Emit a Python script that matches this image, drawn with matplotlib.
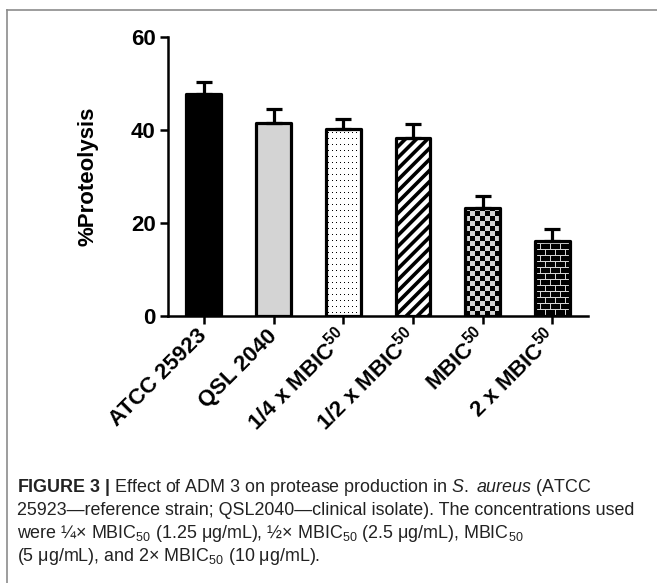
import numpy as np
import matplotlib
matplotlib.use('Agg')
import matplotlib.pyplot as plt
from matplotlib.lines import Line2D

# data
groups = ['ATCC 25923', 'QSL 2040', r'1/4 x MBIC$^{\mathbf{50}}$',
          r'1/2 x MBIC$^{\mathbf{50}}$', r'MBIC$^{\mathbf{50}}$', r'2 x MBIC$^{\mathbf{50}}$']
proteolysis = [47.8, 41.5, 40.3, 38.3, 23.3, 16.1]
sem = [2.6, 3.1, 2.0, 3.0, 2.6, 2.6]
y_ticks = [0, 20, 40, 60]

caption = [
    r'$\mathbf{FIGURE\ 3\ |}$ Effect of ADM 3 on protease production in $\mathit{S.}$ $\mathit{aureus}$ (ATCC',
    '25923\u2014reference strain; QSL2040\u2014clinical isolate). The concentrations used',
    'were \u00bc\u00d7 MBIC$_{50}$ (1.25 \u03bcg/mL), \u00bd\u00d7 MBIC$_{50}$ (2.5 \u03bcg/mL), MBIC$_{50}$',
    '(5 \u03bcg/mL), and 2\u00d7 MBIC$_{50}$ (10 \u03bcg/mL).',
]

fills = ['black', '#d4d4d4', 'dots', 'stripes', 'checker', 'brick']

plt.rcParams['font.family'] = ['Liberation Sans', 'DejaVu Sans']
plt.rcParams['mathtext.fontset'] = 'custom'
plt.rcParams['mathtext.rm'] = 'Liberation Sans'
plt.rcParams['mathtext.it'] = 'Liberation Sans:italic'
plt.rcParams['mathtext.bf'] = 'Liberation Sans:bold'
plt.rcParams['hatch.linewidth'] = 2.6

W, H = 657, 583
fig = plt.figure(figsize=(W / 100, H / 100), dpi=100, facecolor='white')
ax = fig.add_axes([168 / W, 1 - 316 / H, 420 / W, 279 / H])
ax.set_xlim(-0.515, 5.51)
ax.set_ylim(0, 60)

x = np.arange(len(groups))
bw = 0.5
lw = 2.3


def tile(kind):
    g = 0.83
    if kind == 'dots':
        t = np.ones((6, 4))
        t[3, 2] = 0.0
    elif kind == 'checker':
        t = np.full((10, 10), g)
        t[:5, :5] = 0
        t[5:, 5:] = 0
    else:  # brick
        t = np.zeros((12, 10))
        t[0, :] = g
        t[6, :] = g
        t[1:6, 0] = g
        t[7:12, 5] = g
    return t


bars = ax.bar(x, proteolysis, width=bw, color='white', edgecolor='none', zorder=1)
for b, f in zip(bars, fills):
    if f in ('dots', 'checker', 'brick'):
        x0, y0 = ax.transData.transform((b.get_x(), 0))
        x1, y1 = ax.transData.transform((b.get_x() + b.get_width(), b.get_height()))
        nx, ny = int(np.ceil(x1 - x0)), int(np.ceil(y1 - y0))
        t = tile(f)
        img = np.tile(t, (ny // t.shape[0] + 1, nx // t.shape[1] + 1))[:ny, :nx]
        im = ax.imshow(img, cmap='gray', vmin=0, vmax=1, origin='lower', aspect='auto',
                       interpolation='nearest',
                       extent=[b.get_x(), b.get_x() + b.get_width(), 0, b.get_height()],
                       zorder=1.5)
        im.set_clip_path(b)
    elif f == 'stripes':
        b.set_hatch('///')
        b.set_edgecolor('black')
        b.set_linewidth(0)
    else:
        b.set_facecolor(f)

# outlines on top of the fills
outl = ax.bar(x, proteolysis, width=bw, fill=False, edgecolor='black', linewidth=lw, zorder=3)
for b in outl:
    b.set_joinstyle('round')

ax.errorbar(x, proteolysis, yerr=[np.zeros(len(sem)), sem], fmt='none', ecolor='black',
            elinewidth=lw, capsize=6, capthick=lw, zorder=2.5)

ax.set_xlim(-0.515, 5.51)
ax.set_ylim(0, 60)

for s in ['top', 'right']:
    ax.spines[s].set_visible(False)
for s in ['left', 'bottom']:
    ax.spines[s].set_linewidth(1.8)

ax.set_yticks(y_ticks)
ax.set_xticks(x)
ax.set_xticklabels(groups, rotation=45, ha='right', va='center', rotation_mode='anchor',
                   fontsize=16, fontweight='bold')
ax.tick_params(axis='y', length=6, width=1.8, labelsize=16, pad=3)
ax.tick_params(axis='x', length=6, width=1.8, pad=6)
for lab in ax.get_yticklabels():
    lab.set_fontweight('bold')

ax.set_ylabel('%Proteolysis', fontsize=16, fontweight='bold')
ax.yaxis.set_label_coords(-0.165, 0.5)

# frame around the figure panel
fig.add_artist(Line2D([7 / W, 7 / W], [0, 1 - 10 / H], color='#8c8c8c', lw=1.2))
fig.add_artist(Line2D([7 / W, 1], [1 - 10 / H, 1 - 10 / H], color='#8c8c8c', lw=1.2))

for i, line in enumerate(caption):
    fig.text(17 / W, 1 - (492 + 23 * i) / H, line, fontsize=12.9, color='#222222',
             ha='left', va='baseline')

fig.savefig('out.png', dpi=100, facecolor='white')
